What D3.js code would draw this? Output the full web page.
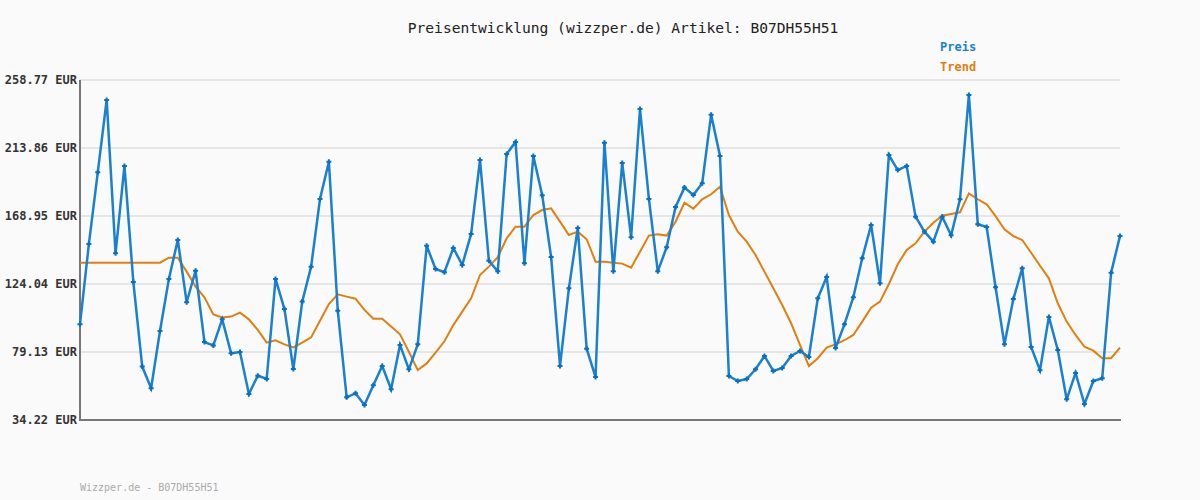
<!DOCTYPE html>
<html><head><meta charset="utf-8">
<script src="https://cdn.jsdelivr.net/npm/d3@7"></script>
<style>body{margin:0;background:#fafafa}</style></head>
<body><svg id="c" width="1200" height="500"></svg>
<script>
const preis=[97.4,150.5,197.8,245.6,144.3,202.0,125.4,69.5,55.2,93.0,127.4,153.1,112.0,132.8,85.7,83.5,100.7,78.3,79.1,51.4,63.5,61.3,127.4,107.5,67.9,112.4,135.5,180.2,204.8,106.4,49.2,51.9,44.1,57.1,69.9,54.5,83.8,67.7,84.2,149.3,134.0,131.8,147.8,136.6,157.1,206.0,139.4,132.4,209.9,217.8,137.7,208.6,182.6,141.9,69.9,121.2,161.0,81.3,62.6,217.4,132.4,204.0,154.9,239.6,180.2,132.4,148.3,174.9,187.7,182.8,190.6,235.9,208.6,63.3,60.0,61.3,67.7,76.5,66.6,68.6,76.5,79.8,75.8,114.6,128.7,81.8,97.4,115.3,141.0,163.0,124.5,209.2,199.3,202.0,168.5,158.6,152.0,168.5,156.2,180.0,248.9,163.5,161.7,121.9,84.2,114.1,134.4,82.4,67.1,102.3,80.5,47.9,65.3,44.8,60.0,61.8,131.5,155.8];
const trend=[138.1,138.1,138.1,138.1,138.1,138.1,138.1,138.1,138.1,138.1,141.4,141.4,132.2,122.3,115.3,104.0,102.0,102.5,105.1,100.7,93.7,85.3,86.8,84.2,82.2,85.3,88.8,99.8,110.8,117.2,115.7,114.3,106.9,101.1,101.1,95.9,90.8,79.3,67.2,71.6,78.7,86.2,96.9,105.8,114.6,130.0,135.5,141.7,154.2,161.9,161.9,169.6,172.9,174.0,165.2,156.4,158.6,153.6,138.8,138.8,138.1,137.5,134.8,145.4,156.0,156.9,156.0,165.2,177.7,173.8,180.0,183.3,188.3,169.6,158.6,152.0,143.2,132.2,121.2,110.2,98.1,83.8,69.9,75.0,82.0,84.2,86.9,90.4,99.2,108.4,112.4,124.0,137.1,146.5,150.9,158.6,164.5,169.1,170.3,171.4,183.9,180.0,176.7,168.9,160.2,155.7,153.1,144.7,136.1,127.8,111.3,99.2,90.4,82.6,80.0,75.0,75.0,82.0];
const ticks=[34.22,79.13,124.04,168.95,213.86,258.77];
const title="Preisentwicklung (wizzper.de) Artikel: B07DH55H51";
const footer="Wizzper.de - B07DH55H51";
const font="'DejaVu Sans Mono',monospace";
const svg=d3.select("#c");
svg.append("rect").attr("width",1200).attr("height",500).attr("fill","#fafafa");
const x=d3.scaleLinear().domain([0,preis.length-1]).range([80,1120]);
const y=d3.scaleLinear().domain([34.22,258.77]).range([420,80]);
ticks.forEach(t=>{
 svg.append("line").attr("x1",80).attr("x2",1120).attr("y1",y(t)).attr("y2",y(t)).attr("stroke","#e6e6e6").attr("stroke-width",2);
 svg.append("text").attr("x",77).attr("y",y(t)+4).attr("text-anchor","end").attr("font-family",font).attr("font-size",12).attr("font-weight","bold").attr("fill","#333").text(t.toFixed(2)+" EUR");
});
svg.append("line").attr("x1",80).attr("x2",80).attr("y1",80).attr("y2",421).attr("stroke","#777").attr("stroke-width",2);
svg.append("line").attr("x1",79).attr("x2",1121).attr("y1",420).attr("y2",420).attr("stroke","#777").attr("stroke-width",2);
const line=d3.line().x((d,i)=>x(i)).y(d=>y(d));
svg.append("path").attr("d",line(trend)).attr("fill","none").attr("stroke","#e08010").attr("stroke-width",2);
svg.append("path").attr("d",line(preis)).attr("fill","none").attr("stroke","#1a80d0").attr("stroke-width",2.5);
svg.selectAll(".m").data(preis).enter().append("path").attr("d",(d,i)=>`M${x(i)-2.5},${y(d)}h5M${x(i)},${y(d)-2.5}v5`).attr("stroke","#0a70c0").attr("stroke-width",2);
svg.append("text").attr("x",623).attr("y",33).attr("text-anchor","middle").attr("font-family",font).attr("font-size",14.6).attr("fill","#222").text(title);
svg.append("text").attr("x",940).attr("y",51).attr("font-family",font).attr("font-size",12).attr("font-weight","bold").attr("fill","#1a80d0").text("Preis");
svg.append("text").attr("x",940).attr("y",71).attr("font-family",font).attr("font-size",12).attr("font-weight","bold").attr("fill","#e08010").text("Trend");
svg.append("text").attr("x",80).attr("y",491).attr("font-family",font).attr("font-size",10).attr("fill","#aaa").text(footer);
</script></body></html>
